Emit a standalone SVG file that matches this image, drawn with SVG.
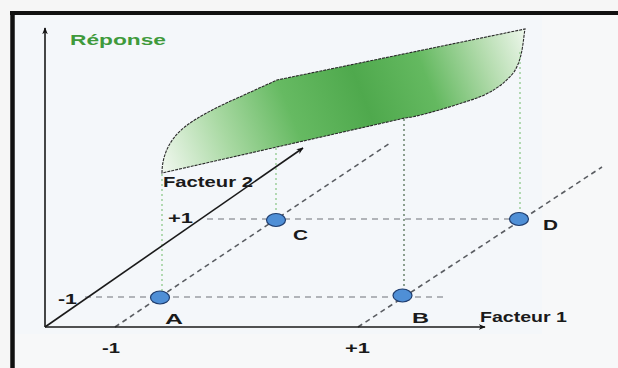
<svg xmlns="http://www.w3.org/2000/svg" width="618" height="368" viewBox="0 0 618 368">
  <defs>
    <linearGradient id="surf" gradientUnits="userSpaceOnUse" x1="165" y1="175" x2="525" y2="32">
      <stop offset="0" stop-color="#f0f7ee"/>
      <stop offset="0.18" stop-color="#a9d9a3"/>
      <stop offset="0.36" stop-color="#66ba62"/>
      <stop offset="0.55" stop-color="#4fa94d"/>
      <stop offset="0.72" stop-color="#64b960"/>
      <stop offset="0.88" stop-color="#b4dcae"/>
      <stop offset="1" stop-color="#ecf6ea"/>
    </linearGradient>
    <marker id="arr" viewBox="0 0 10 10" refX="9" refY="5" markerWidth="7" markerHeight="7" orient="auto" markerUnits="userSpaceOnUse">
      <path d="M0,1 L10,5 L0,9 L3,5 Z" fill="#111"/>
    </marker>
    <style>
      .lbl { font-family: "Liberation Sans", Arial, sans-serif; font-weight: bold; font-size: 15px; fill: #1a1a1a; }
      .axis { stroke: #1a1a1a; stroke-width: 1.6; fill: none; }
      .hgrid { stroke: #9a9ea4; stroke-width: 1.4; stroke-dasharray: 6 5; fill: none; }
      .dgrid { stroke: #5a5d62; stroke-width: 1.6; stroke-dasharray: 5 4; fill: none; }
      .vgrid { stroke: #8fc98c; stroke-width: 1.3; stroke-dasharray: 2 3; fill: none; }
      .vgrid-dark { stroke: #5f7a62; stroke-width: 1.4; stroke-dasharray: 2 3; fill: none; }
      .pt { fill: #4f8fd6; stroke: #1f3d6e; stroke-width: 1.2; }
    </style>
  </defs>

  <!-- background and frame -->
  <rect x="0" y="0" width="618" height="368" fill="#f6f6f6"/>
  <rect x="14" y="14" width="604" height="354" fill="#f7f8f9"/>
  <rect x="14" y="14" width="528" height="320" fill="#f4f7fa"/>
  <line x1="10" y1="13" x2="618" y2="13" stroke="#111" stroke-width="4"/>
  <line x1="12.5" y1="11" x2="12.5" y2="368" stroke="#111" stroke-width="4.5"/>

  <!-- response surface -->
  <g id="surface">
    <path d="M162,173 C162,155 170,138 186,126 C198,117 215,108 233,100 L277,80 L525,29 C523,40 523,58 514,72 C503,86 488,95 468,101 C450,107 430,113 412,117 L405,118 L162,173 Z"
          fill="url(#surf)" stroke="#2a2a2a" stroke-width="1.1" stroke-dasharray="3 1"/>
  </g>

  <!-- connectors: grid and projection lines -->
  <g id="connectors">
    <line class="hgrid" x1="85" y1="297" x2="448" y2="297"/>
    <line class="hgrid" x1="207" y1="219" x2="519" y2="219"/>
    <line class="dgrid" x1="115" y1="327" x2="390" y2="143"/>
    <line class="dgrid" x1="358" y1="327" x2="602" y2="167"/>
    <line class="vgrid" x1="162" y1="174" x2="162" y2="291"/>
    <line class="vgrid" x1="276" y1="148" x2="276" y2="214"/>
    <line class="vgrid-dark" x1="404" y1="119" x2="404" y2="290"/>
    <line class="vgrid" x1="520" y1="52" x2="520" y2="213"/>
  </g>

  <!-- axes -->
  <g id="axes">
    <line class="axis" x1="45" y1="327" x2="45" y2="28" marker-end="url(#arr)"/>
    <line class="axis" x1="45" y1="327" x2="485" y2="327" marker-end="url(#arr)"/>
    <line class="axis" x1="45" y1="327" x2="303" y2="148" stroke-width="1.3" marker-end="url(#arr)"/>
    <text class="lbl" x="70" y="45" font-size="17" textLength="96" lengthAdjust="spacingAndGlyphs" style="fill:#3f9a3c">Réponse</text>
    <text class="lbl" x="163" y="186.5" textLength="90" lengthAdjust="spacingAndGlyphs">Facteur 2</text>
    <text class="lbl" x="480" y="321.5" textLength="87" lengthAdjust="spacingAndGlyphs">Facteur 1</text>
    <text class="lbl" x="168" y="222.5" textLength="25" lengthAdjust="spacingAndGlyphs">+1</text>
    <text class="lbl" x="58" y="304" textLength="19" lengthAdjust="spacingAndGlyphs">-1</text>
    <text class="lbl" x="102" y="353" textLength="18" lengthAdjust="spacingAndGlyphs">-1</text>
    <text class="lbl" x="345" y="353" textLength="25" lengthAdjust="spacingAndGlyphs">+1</text>
  </g>

  <!-- experimental points -->
  <g id="A">
    <ellipse class="pt" cx="160" cy="297.5" rx="9.5" ry="6.5"/>
    <text class="lbl" x="165" y="324" textLength="18" lengthAdjust="spacingAndGlyphs">A</text>
  </g>
  <g id="B">
    <ellipse class="pt" cx="402.5" cy="295.5" rx="9.5" ry="6.5"/>
    <text class="lbl" x="412" y="323" textLength="17" lengthAdjust="spacingAndGlyphs">B</text>
  </g>
  <g id="C">
    <ellipse class="pt" cx="276" cy="220" rx="9.5" ry="6.5"/>
    <text class="lbl" x="293" y="240" textLength="15" lengthAdjust="spacingAndGlyphs">C</text>
  </g>
  <g id="D">
    <ellipse class="pt" cx="519" cy="219" rx="9.5" ry="6.5"/>
    <text class="lbl" x="543" y="230" textLength="15" lengthAdjust="spacingAndGlyphs">D</text>
  </g>
</svg>
